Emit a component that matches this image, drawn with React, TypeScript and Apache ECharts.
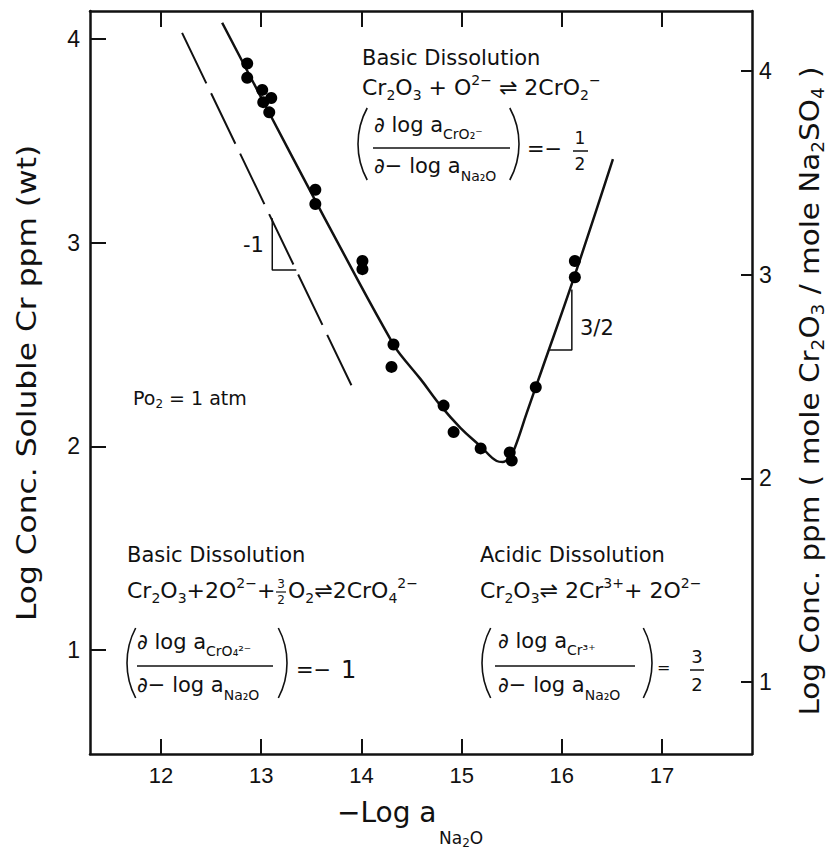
import { useEffect, useRef } from "react";
import * as echarts from "echarts";

// ---- data ----
const xTicks = [12, 13, 14, 15, 16, 17];
const yTicksLeft = [1, 2, 3, 4];
const yTicksRight = [1, 2, 3, 4];

const measuredX = [12.86, 12.86, 13.01, 13.1, 13.02, 13.08, 13.54, 13.54, 14.01, 14.01, 14.32, 14.3, 14.82, 14.92, 15.19, 15.48, 15.5, 15.74, 16.13, 16.13];
const measuredY = [3.88, 3.81, 3.75, 3.71, 3.69, 3.64, 3.26, 3.19, 2.91, 2.87, 2.5, 2.39, 2.2, 2.07, 1.99, 1.97, 1.93, 2.29, 2.91, 2.83];

const fitX = [12.61, 13.29, 13.96, 14.32, 14.39, 14.59, 14.79, 14.99, 15.19, 15.35, 15.41, 15.48, 15.53, 15.65, 15.8, 16.11, 16.51];
const fitY = [4.08, 3.44, 2.82, 2.5, 2.45, 2.33, 2.2, 2.09, 2.0, 1.928, 1.923, 1.948, 1.992, 2.164, 2.375, 2.812, 3.41];

const dashX = [12.21, 13.9];
const dashY = [4.03, 2.3];

const triMinusOneX = [13.11, 13.11, 13.35];
const triMinusOneY = [3.12, 2.866, 2.866];
const triThreeHalfX = [16.1, 16.1, 15.88];
const triThreeHalfY = [2.77, 2.473, 2.473];

const xRange = [11.291, 17.898];
const yLeftRange = [0.4894, 4.1375];
const yRightRange = [0.6465, 4.2946];

const INK = "#111";
const FONT = "'DejaVu Sans', sans-serif";
const NUM_FONT = "'Liberation Sans', sans-serif";

const zip = (xs: number[], ys: number[]) => xs.map((x, i) => [x, ys[i]]);

function txt(x: number, y: number, text: string, size: number, align = "left", rot = 0, scaleX = 1) {
  return {
    type: "text",
    x,
    y,
    rotation: rot,
    scaleX,
    silent: true,
    style: { text, fontSize: size, fontFamily: FONT, fill: INK, textAlign: align, textVerticalAlign: "middle" },
  };
}

// chemistry text: "_{..}" subscript, "^{..}" superscript
function chem(
  x: number,
  y: number,
  src: string,
  size: number,
  subSize: number,
  drop: number,
  align = "left",
  rot = 0,
  scaleX = 1
) {
  const parts = src.split(/(_\{[^}]*\}|\^\{[^}]*\})/).filter((p) => p.length > 0);
  const text = parts
    .map((p) =>
      p.startsWith("_{") ? `{s|${p.slice(2, -1)}}` : p.startsWith("^{") ? `{p|${p.slice(2, -1)}}` : `{m|${p}}`
    )
    .join("");
  const L = 2 * drop + subSize;
  return {
    type: "text",
    x,
    y,
    rotation: rot,
    scaleX,
    silent: true,
    style: {
      text,
      fontSize: size,
      fontFamily: FONT,
      fill: INK,
      textAlign: align,
      textVerticalAlign: "middle",
      rich: {
        m: { fontSize: size, fontFamily: FONT, fill: INK, lineHeight: L, verticalAlign: "middle", textVerticalAlign: "middle" },
        s: { fontSize: subSize, fontFamily: FONT, fill: INK, lineHeight: subSize, verticalAlign: "bottom", textVerticalAlign: "bottom" },
        p: { fontSize: subSize, fontFamily: FONT, fill: INK, lineHeight: subSize, verticalAlign: "top", textVerticalAlign: "top" },
      },
    },
  };
}

function ln(x1: number, y1: number, x2: number, y2: number, w = 1.5) {
  return { type: "line", silent: true, shape: { x1, y1, x2, y2 }, style: { stroke: INK, lineWidth: w } };
}

function paren(x: number, cy: number, half: number, left: boolean) {
  const r = 75;
  const a = Math.asin(half / r);
  return {
    type: "arc",
    silent: true,
    shape: left
      ? { cx: x + r, cy, r, startAngle: Math.PI - a, endAngle: Math.PI + a, clockwise: true }
      : { cx: x - r, cy, r, startAngle: -a, endAngle: a, clockwise: true },
    style: { stroke: INK, lineWidth: 1.6, fill: "none" },
  };
}

export default function App() {
  const ref = useRef<HTMLDivElement>(null);
  useEffect(() => {
    if (!ref.current) return;
    const chart = echarts.init(ref.current, undefined, { renderer: "svg" });
    const axisLine = { show: true, onZero: false, lineStyle: { color: INK, width: 2.5 } };
    const option: any = {
      animation: false,
      backgroundColor: "#fff",
      grid: { left: 90, top: 11, right: 83, bottom: 98 },
      xAxis: [
        {
          type: "value",
          min: xRange[0],
          max: xRange[1],
          position: "bottom",
          axisLine,
          axisTick: { show: true, inside: true, length: 15, customValues: xTicks, lineStyle: { color: INK, width: 2 } },
          axisLabel: { customValues: xTicks, fontSize: 22, color: INK, fontFamily: NUM_FONT, margin: 10 },
          splitLine: { show: false },
        },
        {
          type: "value",
          min: xRange[0],
          max: xRange[1],
          position: "top",
          axisLine,
          axisTick: { show: true, inside: true, length: 16, customValues: xTicks, lineStyle: { color: INK, width: 2 } },
          axisLabel: { show: false },
          splitLine: { show: false },
        },
      ],
      yAxis: [
        {
          type: "value",
          min: yLeftRange[0],
          max: yLeftRange[1],
          position: "left",
          axisLine,
          axisTick: { show: true, inside: true, length: 16, customValues: yTicksLeft, lineStyle: { color: INK, width: 2 } },
          axisLabel: { customValues: yTicksLeft, fontSize: 23, color: INK, fontFamily: NUM_FONT, margin: 10 },
          splitLine: { show: false },
        },
        {
          type: "value",
          min: yRightRange[0],
          max: yRightRange[1],
          position: "right",
          axisLine,
          axisTick: { show: true, inside: true, length: 11, customValues: yTicksRight, lineStyle: { color: INK, width: 2 } },
          axisLabel: { customValues: yTicksRight, fontSize: 23, color: INK, fontFamily: NUM_FONT, margin: 7 },
          splitLine: { show: false },
        },
      ],
      series: [
        {
          type: "line",
          data: zip(fitX, fitY),
          smooth: 0.4,
          showSymbol: false,
          symbol: "none",
          lineStyle: { color: INK, width: 2.5 },
          z: 3,
        },
        {
          type: "line",
          data: zip(dashX, dashY),
          symbol: "none",
          lineStyle: { color: INK, width: 2, type: [56, 11] },
        },
        {
          type: "line",
          data: zip(triMinusOneX, triMinusOneY),
          symbol: "none",
          lineStyle: { color: INK, width: 1.5 },
        },
        {
          type: "line",
          data: zip(triThreeHalfX, triThreeHalfY),
          symbol: "none",
          lineStyle: { color: INK, width: 1.5 },
        },
        {
          type: "scatter",
          data: zip(measuredX, measuredY),
          symbol: "circle",
          symbolSize: 12,
          itemStyle: { color: "#000", opacity: 1 },
          z: 4,
        },
      ],
      graphic: [
        // axis titles
        txt(27, 383, "Log Conc. Soluble Cr ppm (wt)", 27, "center", Math.PI / 2, 1.16),
        chem(810, 391, "Log Conc. ppm ( mole Cr_{2}O_{3} / mole Na_{2}SO_{4} )", 27, 17, 8, "center", Math.PI / 2, 1.09),
        txt(337, 812, "−Log a", 28, "left"),
        chem(439, 838, "Na_{2}O", 17, 12, 5, "left"),

        // slope labels
        txt(264, 245, "-1", 21, "right"),
        txt(580, 328, "3/2", 21, "left"),
        chem(133, 398, "Po_{2} = 1 atm", 19, 12, 6),

        // top block: basic dissolution to CrO2-
        txt(362, 58, "Basic Dissolution", 21),
        chem(362, 87, "Cr_{2}O_{3} + O^{2−} ⇌ 2CrO_{2}^{−}", 22, 14, 7.5),
        paren(358, 144, 36, true),
        paren(519, 144, 36, false),
        chem(374, 125, "∂ log a_{CrO₂⁻}", 21, 14, 9),
        ln(373, 148, 510, 148),
        chem(374, 166, "∂− log a_{Na₂O}", 21, 14, 10),
        txt(527, 149, "=−", 21),
        txt(580, 138, "1", 17, "center"),
        ln(573, 151, 588, 151),
        txt(580, 164, "2", 17, "center"),

        // bottom-left block: basic dissolution to CrO4 2-
        txt(127, 555, "Basic Dissolution", 21),
        chem(127, 590, "Cr_{2}O_{3}+2O^{2−}+", 22, 14, 7.5),
        txt(281, 584, "3", 12, "center"),
        ln(276, 592, 286, 592, 1.2),
        txt(281, 600, "2", 12, "center"),
        chem(288, 590, "O_{2}⇌2CrO_{4}^{2−}", 22, 14, 7.5),
        paren(127, 663, 35, true),
        paren(287, 663, 35, false),
        chem(137, 642, "∂ log a_{CrO₄²⁻}", 21, 14, 9),
        ln(137, 666, 273, 666),
        chem(137, 685, "∂− log a_{Na₂O}", 21, 14, 10),
        txt(296, 670, "=−", 21),
        txt(341, 670, "1", 24),

        // bottom-right block: acidic dissolution
        txt(480, 555, "Acidic Dissolution", 21),
        chem(480, 590, "Cr_{2}O_{3}⇌ 2Cr^{3+}+ 2O^{2−}", 22, 14, 7.5),
        paren(482, 663, 35, true),
        paren(652, 663, 35, false),
        chem(498, 641, "∂ log a_{Cr³⁺}", 21, 14, 9),
        ln(495, 666, 635, 666),
        chem(498, 685, "∂− log a_{Na₂O}", 21, 14, 10),
        txt(657, 667, "=", 16),
        txt(697, 656, "3", 18, "center"),
        ln(690, 670, 704, 670),
        txt(697, 684, "2", 18, "center"),
      ],
    };
    chart.setOption(option);
    return () => chart.dispose();
  }, []);
  return (
    <div
      ref={ref}
      style={{ position: "fixed", left: 0, top: 0, width: 835, height: 852, background: "#fff" }}
    />
  );
}
